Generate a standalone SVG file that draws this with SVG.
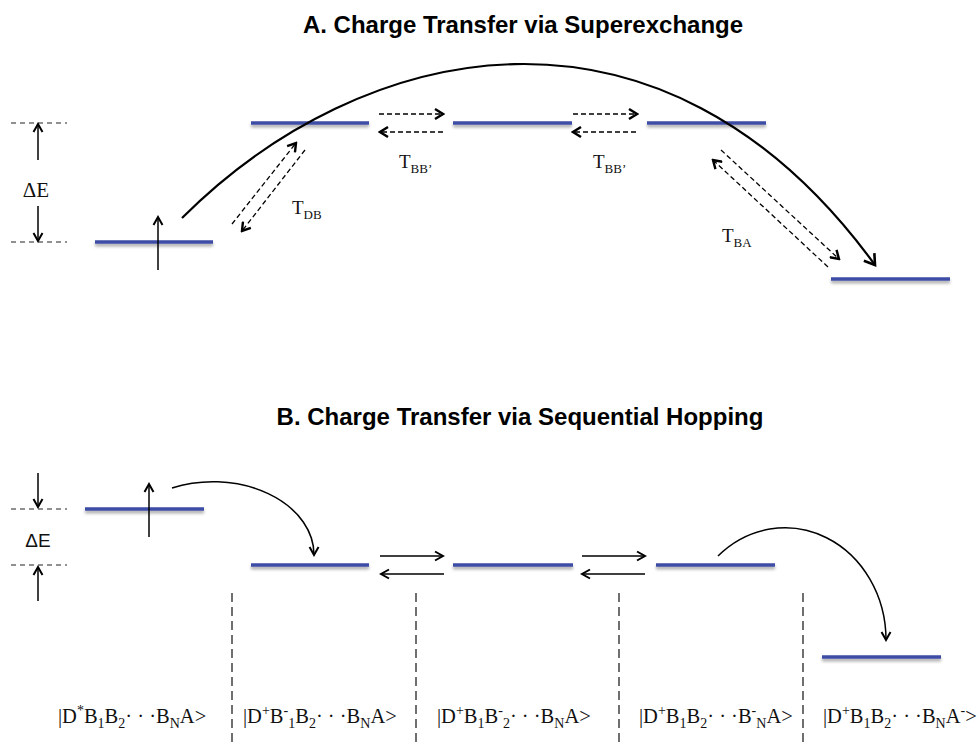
<svg xmlns="http://www.w3.org/2000/svg" width="979" height="745" viewBox="0 0 979 745">
<style>
.title{font-family:"Liberation Sans",Arial,sans-serif;font-weight:bold;font-size:24px;fill:#000;text-anchor:middle}
.lvl{stroke:#3d4ea6;stroke-width:3.5;fill:none}
.serif{font-family:"Liberation Serif","Times New Roman",serif;fill:#111}
.sans{font-family:"Liberation Sans",Arial,sans-serif;fill:#111}
.guide{stroke:#222;stroke-width:1.2;stroke-dasharray:5 4;fill:none}
.sep{stroke:#333;stroke-width:1.4;stroke-dasharray:9 5;fill:none}
.dash{stroke:#000;stroke-width:1.3;stroke-dasharray:5 3;fill:none}
.solid{stroke:#000;stroke-width:1.5;fill:none}
.thick{stroke:#000;stroke-width:2.2;fill:none}
.st{font-size:20.5px}
</style>
<defs>
<filter id="sh" filterUnits="userSpaceOnUse" x="0" y="0" width="979" height="745">
<feDropShadow dx="0" dy="2.5" stdDeviation="1.6" flood-color="#000" flood-opacity="0.35"/>
</filter>
<marker id="ah" viewBox="0 0 12 12" markerUnits="userSpaceOnUse" markerWidth="12" markerHeight="12" refX="10" refY="6" orient="auto">
<path d="M2,1 L10,6 L2,11" fill="none" stroke="#000" stroke-width="2.4" stroke-linejoin="miter"/>
</marker>
<marker id="ahs" viewBox="0 0 12 12" markerUnits="userSpaceOnUse" markerWidth="12" markerHeight="12" refX="10" refY="6" orient="auto">
<path d="M2,1.5 L10,6 L2,10.5" fill="none" stroke="#000" stroke-width="2" stroke-linejoin="miter"/>
</marker>
<marker id="ahL" viewBox="0 0 16 16" markerUnits="userSpaceOnUse" markerWidth="16" markerHeight="16" refX="13" refY="8" orient="auto">
<path d="M3,1.5 L13,8 L3,14.5" fill="none" stroke="#000" stroke-width="2.6" stroke-linejoin="miter"/>
</marker>
</defs>

<text class="title" x="523" y="33">A. Charge Transfer via Superexchange</text>
<text class="title" x="520" y="425">B. Charge Transfer via Sequential Hopping</text>

<!-- Part A levels -->
<g id="A-D"><line class="lvl" filter="url(#sh)" x1="95" y1="242" x2="213" y2="242"/></g>
<g id="A-B1"><line class="lvl" filter="url(#sh)" x1="251" y1="123" x2="369" y2="123"/></g>
<g id="A-B2"><line class="lvl" filter="url(#sh)" x1="453" y1="123" x2="572" y2="123"/></g>
<g id="A-B3"><line class="lvl" filter="url(#sh)" x1="647" y1="123" x2="766" y2="123"/></g>
<g id="A-A"><line class="lvl" filter="url(#sh)" x1="831" y1="279" x2="950" y2="279"/></g>

<!-- Part A energy gap -->
<g id="A-gap">
<line class="guide" x1="11" y1="123" x2="67" y2="123"/>
<line class="guide" x1="11" y1="242" x2="67" y2="242"/>
<line class="solid" x1="38" y1="160" x2="38" y2="124" marker-end="url(#ahs)"/>
<line class="solid" x1="38" y1="206" x2="38" y2="241" marker-end="url(#ahs)"/>
<text class="serif" x="36" y="197" font-size="21" text-anchor="middle">ΔE</text>
</g>

<!-- Part A labels -->
<g id="A-labels" class="serif">
<text x="292" y="214" font-size="19">T<tspan font-size="13" dy="5">DB</tspan></text>
<text x="399" y="168" font-size="19">T<tspan font-size="13" dy="5">BB’</tspan></text>
<text x="593" y="168" font-size="19">T<tspan font-size="13" dy="5">BB’</tspan></text>
<text x="722" y="242" font-size="19">T<tspan font-size="13" dy="5">BA</tspan></text>
</g>

<!-- Part B levels -->
<g id="B-D"><line class="lvl" filter="url(#sh)" x1="85" y1="509" x2="204" y2="509"/></g>
<g id="B-B1"><line class="lvl" filter="url(#sh)" x1="251" y1="565" x2="369" y2="565"/></g>
<g id="B-B2"><line class="lvl" filter="url(#sh)" x1="453" y1="565" x2="573" y2="565"/></g>
<g id="B-B3"><line class="lvl" filter="url(#sh)" x1="656" y1="565" x2="775" y2="565"/></g>
<g id="B-A"><line class="lvl" filter="url(#sh)" x1="822" y1="657" x2="941" y2="657"/></g>

<g id="B-gap">
<line class="guide" x1="11" y1="509" x2="67" y2="509"/>
<line class="guide" x1="11" y1="565" x2="67" y2="565"/>
<line class="solid" x1="38" y1="473" x2="38" y2="507" marker-end="url(#ahs)"/>
<line class="solid" x1="38" y1="601" x2="38" y2="567" marker-end="url(#ahs)"/>
<text class="sans" x="38" y="547" font-size="19" text-anchor="middle">ΔE</text>
</g>

<!-- separators -->
<g id="separators">
<line class="sep" x1="232" y1="593" x2="232" y2="745"/>
<line class="sep" x1="416" y1="593" x2="416" y2="745"/>
<line class="sep" x1="619" y1="593" x2="619" y2="745"/>
<line class="sep" x1="803" y1="593" x2="803" y2="745"/>
</g>

<!-- state labels -->
<g id="states" class="serif st">
<text x="58" y="723">|D<tspan font-size="14" dy="-8">*</tspan><tspan dy="8">B</tspan><tspan font-size="14" dy="5">1</tspan><tspan dy="-5">B</tspan><tspan font-size="14" dy="5">2</tspan><tspan dy="-5">· · ·B</tspan><tspan font-size="14" dy="5">N</tspan><tspan dy="-5">A&gt;</tspan></text>
<text x="243" y="723">|D<tspan font-size="14" dy="-8">+</tspan><tspan dy="8">B</tspan><tspan font-size="14" dy="-8">-</tspan><tspan font-size="14" dy="13">1</tspan><tspan dy="-5">B</tspan><tspan font-size="14" dy="5">2</tspan><tspan dy="-5">· · ·B</tspan><tspan font-size="14" dy="5">N</tspan><tspan dy="-5">A&gt;</tspan></text>
<text x="437" y="723">|D<tspan font-size="14" dy="-8">+</tspan><tspan dy="8">B</tspan><tspan font-size="14" dy="5">1</tspan><tspan dy="-5">B</tspan><tspan font-size="14" dy="-8">-</tspan><tspan font-size="14" dy="13">2</tspan><tspan dy="-5">· · ·B</tspan><tspan font-size="14" dy="5">N</tspan><tspan dy="-5">A&gt;</tspan></text>
<text x="639" y="723">|D<tspan font-size="14" dy="-8">+</tspan><tspan dy="8">B</tspan><tspan font-size="14" dy="5">1</tspan><tspan dy="-5">B</tspan><tspan font-size="14" dy="5">2</tspan><tspan dy="-5">· · ·B</tspan><tspan font-size="14" dy="-8">-</tspan><tspan font-size="14" dy="13">N</tspan><tspan dy="-5">A&gt;</tspan></text>
<text x="823" y="723">|D<tspan font-size="14" dy="-8">+</tspan><tspan dy="8">B</tspan><tspan font-size="14" dy="5">1</tspan><tspan dy="-5">B</tspan><tspan font-size="14" dy="5">2</tspan><tspan dy="-5">· · ·B</tspan><tspan font-size="14" dy="5">N</tspan><tspan dy="-5">A</tspan><tspan font-size="14" dy="-8">-</tspan><tspan dy="8">&gt;</tspan></text>
</g>

<!-- connectors -->
<g id="connectors">
<!-- Part A -->
<line class="solid" x1="158" y1="270" x2="158" y2="217" marker-end="url(#ahs)"/>
<path class="thick" d="M182,218 C360,40 660,-30 875,265" marker-end="url(#ahL)"/>
<line class="dash" x1="232" y1="224" x2="296" y2="143" marker-end="url(#ah)"/>
<line class="dash" x1="305" y1="150" x2="242" y2="231" marker-end="url(#ah)"/>
<line class="dash" x1="379" y1="114" x2="443" y2="114" marker-end="url(#ah)"/>
<line class="dash" x1="443" y1="132" x2="380" y2="132" marker-end="url(#ah)"/>
<line class="dash" x1="573" y1="114" x2="637" y2="114" marker-end="url(#ah)"/>
<line class="dash" x1="636" y1="132" x2="573" y2="132" marker-end="url(#ah)"/>
<line class="dash" x1="721" y1="150" x2="839" y2="259" marker-end="url(#ah)"/>
<line class="dash" x1="828" y1="267" x2="713" y2="160" marker-end="url(#ah)"/>
<!-- Part B -->
<line class="solid" x1="149" y1="537" x2="149" y2="484" marker-end="url(#ahs)"/>
<path class="solid" d="M172,488 A101,73 0 0 1 314,555" marker-end="url(#ahs)"/>
<line class="solid" x1="380" y1="556" x2="443" y2="556" marker-end="url(#ahs)"/>
<line class="solid" x1="444" y1="574" x2="381" y2="574" marker-end="url(#ahs)"/>
<line class="solid" x1="582" y1="556" x2="645" y2="556" marker-end="url(#ahs)"/>
<line class="solid" x1="645" y1="574" x2="582" y2="574" marker-end="url(#ahs)"/>
<path class="solid" d="M718,556 A101,112 0 0 1 886,640" marker-end="url(#ahs)"/>
</g>
</svg>
